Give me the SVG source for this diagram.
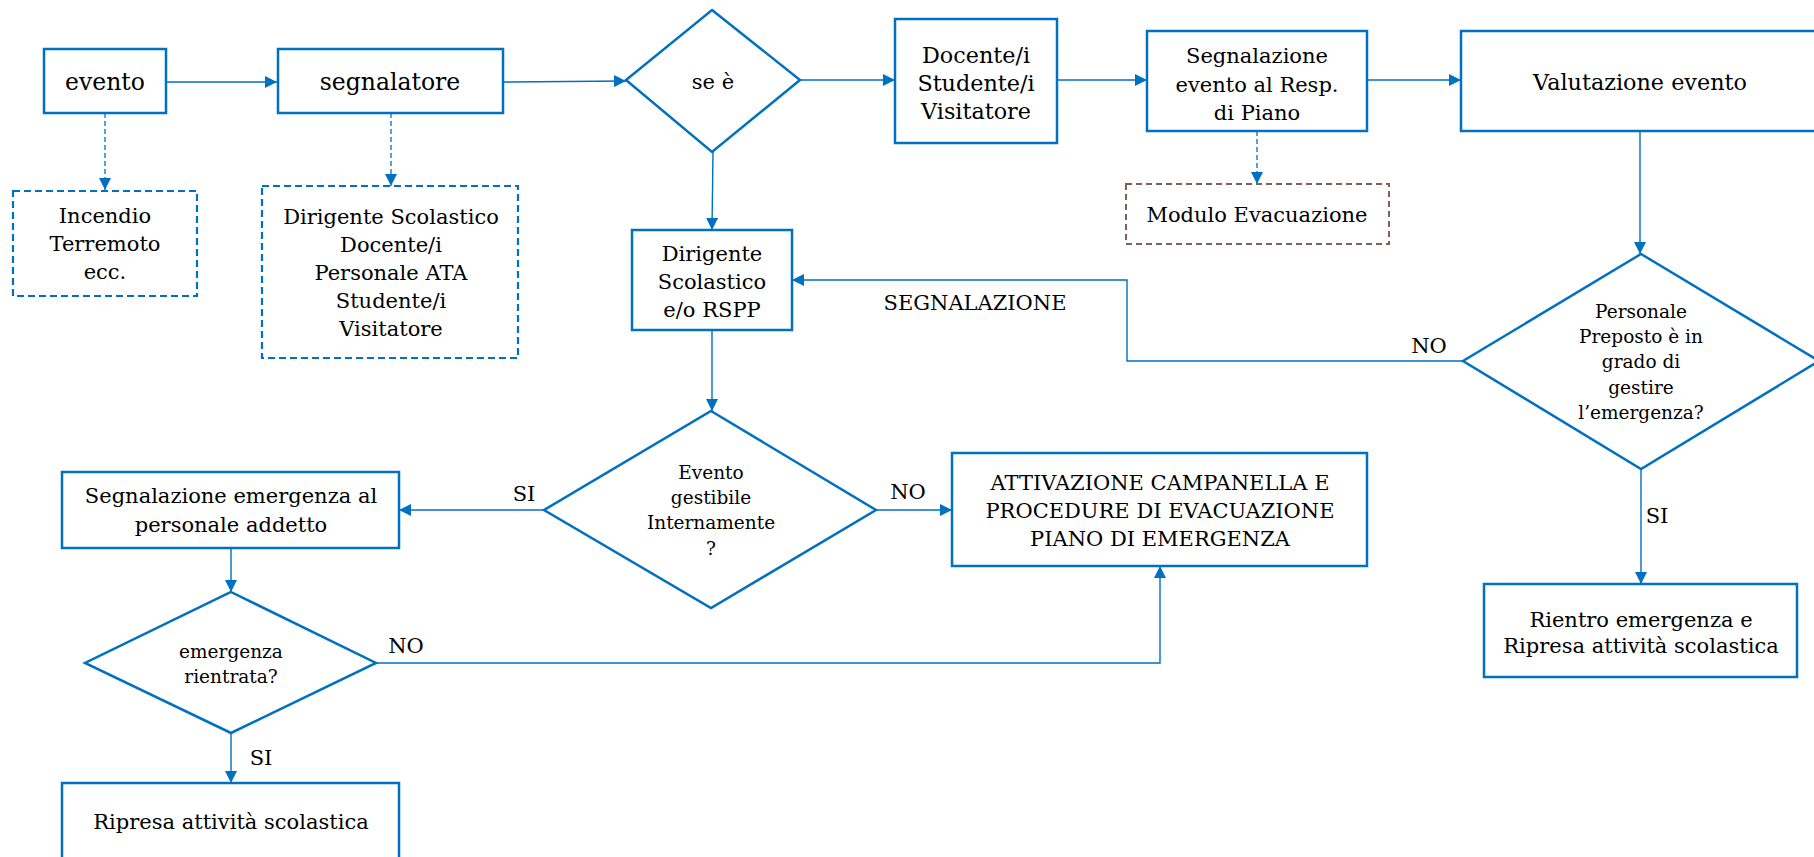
<svg xmlns="http://www.w3.org/2000/svg" width="1814" height="857" viewBox="0 0 1814 857">
<style>
.box{fill:#fff;stroke:#0070C0;stroke-width:2.5}
.dbox{fill:#fff;stroke:#0070C0;stroke-width:2.2;stroke-dasharray:7 4}
.bbox{fill:#fff;stroke:#7F5F5F;stroke-width:2;stroke-dasharray:6 4}
.dia{fill:#fff;stroke:#0070C0;stroke-width:2.5}
.t{font-family:"DejaVu Serif","Liberation Serif",serif;font-size:21px;fill:#000;text-anchor:middle}
.s{font-size:18.5px}
.l{font-size:23.5px}
.m{font-size:22.3px}
.c{fill:none;stroke:#0070C0;stroke-width:1.4}
.d{fill:none;stroke:#0070C0;stroke-width:1.3;stroke-dasharray:5 3}
</style>
<defs>
<marker id="ah" viewBox="0 0 10 10" refX="10" refY="5" markerUnits="userSpaceOnUse" markerWidth="12" markerHeight="12" orient="auto">
<path d="M0,0 L10,5 L0,10 z" fill="#0070C0"/>
</marker>
</defs>
<g id="connectors">
<line class="c" x1="166" y1="82" x2="277" y2="82" marker-end="url(#ah)"/>
<line class="c" x1="503" y1="82" x2="626" y2="81" marker-end="url(#ah)"/>
<line class="c" x1="800" y1="80" x2="895" y2="80" marker-end="url(#ah)"/>
<line class="c" x1="1057" y1="80" x2="1147" y2="80" marker-end="url(#ah)"/>
<line class="c" x1="1367" y1="80" x2="1461" y2="80" marker-end="url(#ah)"/>
<line class="d" x1="105" y1="113" x2="105" y2="190" marker-end="url(#ah)"/>
<line class="d" x1="391" y1="113" x2="391" y2="186" marker-end="url(#ah)"/>
<line class="d" x1="1257" y1="131" x2="1257" y2="184" marker-end="url(#ah)"/>
<line class="c" x1="1640" y1="131" x2="1640" y2="254" marker-end="url(#ah)"/>
<line class="c" x1="713" y1="152" x2="712" y2="230" marker-end="url(#ah)"/>
<polyline class="c" points="1463,361 1127,361 1127,280 792,280" marker-end="url(#ah)"/>
<line class="c" x1="712" y1="330" x2="712" y2="411" marker-end="url(#ah)"/>
<line class="c" x1="544" y1="510" x2="399" y2="510" marker-end="url(#ah)"/>
<line class="c" x1="876" y1="510" x2="952" y2="510" marker-end="url(#ah)"/>
<line class="c" x1="231" y1="548" x2="231" y2="592" marker-end="url(#ah)"/>
<polyline class="c" points="376,663 1160,663 1160,566" marker-end="url(#ah)"/>
<line class="c" x1="231" y1="733" x2="231" y2="783" marker-end="url(#ah)"/>
<line class="c" x1="1641" y1="469" x2="1641" y2="584" marker-end="url(#ah)"/>
<text class="t" x="975" y="310">SEGNALAZIONE</text>
<text class="t" x="1429" y="353">NO</text>
<text class="t" x="524" y="501">SI</text>
<text class="t" x="908" y="499">NO</text>
<text class="t" x="406" y="653">NO</text>
<text class="t" x="261" y="765">SI</text>
<text class="t" x="1657" y="523">SI</text>
</g>
<g id="evento">
<rect class="box" x="44" y="49" width="122" height="64"/>
<text class="t l" x="105" y="90">evento</text>
</g>
<g id="segnalatore">
<rect class="box" x="278" y="49" width="225" height="64"/>
<text class="t l" x="390" y="90">segnalatore</text>
</g>
<g id="tipi-evento">
<rect class="dbox" x="13" y="191" width="184" height="105"/>
<text class="t" x="105" y="223">Incendio</text>
<text class="t" x="105" y="251">Terremoto</text>
<text class="t" x="105" y="279">ecc.</text>
</g>
<g id="segnalatori">
<rect class="dbox" x="262" y="186" width="256" height="172"/>
<text class="t" x="391" y="224">Dirigente Scolastico</text>
<text class="t" x="391" y="252">Docente/i</text>
<text class="t" x="391" y="280">Personale ATA</text>
<text class="t" x="391" y="308">Studente/i</text>
<text class="t" x="391" y="336">Visitatore</text>
</g>
<g id="se-e">
<polygon class="dia" points="712,10 800,80 712,152 626,80"/>
<text class="t" x="713" y="89">se è</text>
</g>
<g id="docente">
<rect class="box" x="895" y="19" width="162" height="124"/>
<text class="t m" x="976" y="63">Docente/i</text>
<text class="t m" x="976" y="91">Studente/i</text>
<text class="t m" x="976" y="119">Visitatore</text>
</g>
<g id="segnalazione-evento">
<rect class="box" x="1147" y="31" width="220" height="100"/>
<text class="t" x="1257" y="63">Segnalazione</text>
<text class="t" x="1257" y="92">evento al Resp.</text>
<text class="t" x="1257" y="120">di Piano</text>
</g>
<g id="modulo">
<rect class="bbox" x="1126" y="184" width="263" height="60"/>
<text class="t" x="1257" y="222">Modulo Evacuazione</text>
</g>
<g id="valutazione">
<rect class="box" x="1461" y="31" width="358" height="100"/>
<text class="t m" x="1640" y="90">Valutazione evento</text>
</g>
<g id="personale-preposto">
<polygon class="dia" points="1641,254 1819,361 1641,469 1463,361"/>
<text class="t s" x="1641" y="318">Personale</text>
<text class="t s" x="1641" y="343">Preposto è in</text>
<text class="t s" x="1641" y="368">grado di</text>
<text class="t s" x="1641" y="394">gestire</text>
<text class="t s" x="1641" y="419">l’emergenza?</text>
</g>
<g id="dirigente-rspp">
<rect class="box" x="632" y="230" width="160" height="100"/>
<text class="t" x="712" y="261">Dirigente</text>
<text class="t" x="712" y="289">Scolastico</text>
<text class="t" x="712" y="317">e/o RSPP</text>
</g>
<g id="evento-gestibile">
<polygon class="dia" points="711,411 876,510 711,608 544,510"/>
<text class="t s" x="711" y="479">Evento</text>
<text class="t s" x="711" y="504">gestibile</text>
<text class="t s" x="711" y="529">Internamente</text>
<text class="t s" x="711" y="555">?</text>
</g>
<g id="attivazione">
<rect class="box" x="952" y="453" width="415" height="113"/>
<text class="t" x="1160" y="490">ATTIVAZIONE CAMPANELLA E</text>
<text class="t" x="1160" y="518">PROCEDURE DI EVACUAZIONE</text>
<text class="t" x="1160" y="546">PIANO DI EMERGENZA</text>
</g>
<g id="segnalazione-emergenza">
<rect class="box" x="62" y="472" width="337" height="76"/>
<text class="t" x="231" y="503">Segnalazione emergenza al</text>
<text class="t" x="231" y="532">personale addetto</text>
</g>
<g id="emergenza-rientrata">
<polygon class="dia" points="231,592 376,663 231,733 85,663"/>
<text class="t s" x="231" y="658">emergenza</text>
<text class="t s" x="231" y="683">rientrata?</text>
</g>
<g id="ripresa">
<rect class="box" x="62" y="783" width="337" height="90"/>
<text class="t" x="231" y="829">Ripresa attività scolastica</text>
</g>
<g id="rientro">
<rect class="box" x="1484" y="584" width="313" height="93"/>
<text class="t" x="1641" y="627">Rientro emergenza e</text>
<text class="t" x="1641" y="653">Ripresa attività scolastica</text>
</g>
</svg>
